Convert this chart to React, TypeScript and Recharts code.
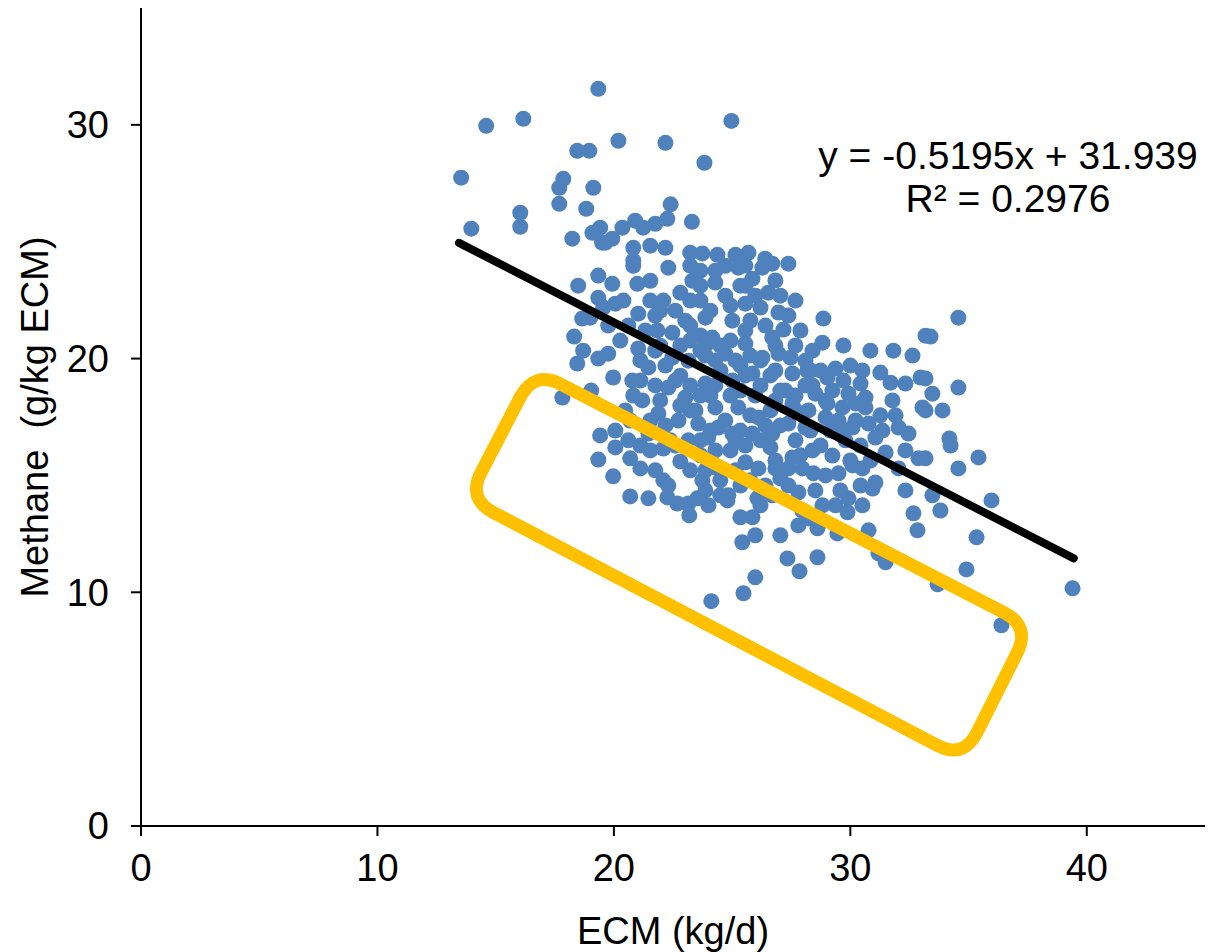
import React from 'react';
import { ScatterChart, Scatter, XAxis, YAxis, Customized } from 'recharts';

const xTicks = [0, 10, 20, 30, 40];
const yTicks = [0, 10, 20, 30];

// [ECM kg/d, methane g/kg ECM]
const cowPoints: [number, number][] = [
  [19.34, 31.54], [14.6, 29.96], [16.17, 30.26], [24.97, 30.17], [20.19, 29.32], [22.18, 29.23],
  [18.45, 28.89], [18.96, 28.89], [23.83, 28.38], [13.54, 27.74], [17.86, 27.69], [17.69, 27.31],
  [19.13, 27.31], [22.4, 26.6], [17.69, 26.62], [18.83, 26.41], [16.04, 26.24], [13.97, 25.56],
  [16.04, 25.64], [23.3, 25.85], [22.26, 25.98], [19.42, 25.6], [18.24, 25.13], [19.09, 25.38],
  [19.5, 24.96], [20.9, 25.9], [20.36, 25.6], [21.24, 25.6], [21.75, 25.77], [19.93, 25.13],
  [19.64, 24.96], [20.82, 24.74], [21.54, 24.83], [22.18, 24.74], [23.23, 24.53], [23.74, 24.5],
  [24.38, 24.44], [25.14, 24.44], [25.69, 24.53], [20.82, 24.19], [26.4, 24.27],
  [18.49, 23.12], [19.34, 23.55], [19.34, 22.6], [19.55, 22.18], [18.66, 21.71], [19.0, 21.75],
  [19.76, 21.41], [18.32, 20.94], [18.7, 20.34], [18.45, 19.79], [19.34, 20.0], [17.82, 18.33],
  [19.04, 18.63], [19.42, 16.71],
  [19.93, 23.2], [20.06, 22.35], [20.82, 23.97], [20.99, 23.2], [20.4, 22.48], [21.03, 21.92],
  [20.27, 20.77], [21.03, 20.43], [21.46, 19.62], [19.97, 19.19], [19.76, 20.21], [20.82, 18.42],
  [21.84, 21.2], [22.09, 22.48], [22.3, 23.89], [22.81, 22.82], [23.32, 23.33], [24.29, 23.25],
  [25.26, 23.89], [25.86, 23.42], [26.28, 23.89], [26.2, 22.18], [25.56, 22.35], [25.01, 21.62],
  [23.87, 21.75], [23.02, 21.62], [22.47, 21.11], [24.16, 20.9], [24.71, 20.21], [25.56, 20.64],
  [26.28, 20.04], [23.15, 19.91], [22.47, 20.04], [23.87, 18.93], [25.01, 19.06], [25.86, 19.36],
  [22.3, 18.76], [23.02, 18.33], [24.29, 17.91], [25.26, 17.91], [26.11, 17.48], [21.2, 18.21],
  [21.88, 17.65], [22.73, 17.35], [23.57, 17.22], [24.42, 17.05], [20.06, 16.92], [20.61, 16.5],
  [21.46, 16.79], [22.3, 16.5], [23.15, 16.5], [23.99, 16.62], [25.01, 16.79], [25.86, 16.79],
  [21.54, 23.33], [23.66, 22.48], [24.71, 22.69], [23.23, 20.77], [23.66, 20.34], [25.35, 19.7],
  [24.08, 18.42], [23.45, 17.78], [25.35, 18.63], [25.98, 18.42], [24.51, 19.49], [22.81, 19.27],
  [21.75, 18.85], [21.96, 20.55], [23.66, 23.76], [25.56, 23.12], [24.71, 23.97], [22.6, 22.05],
  [24.93, 20.77], [23.87, 20.13],
  [26.7, 24.06], [27.38, 24.06], [26.53, 22.82], [27.04, 22.69], [26.96, 21.97], [27.38, 21.84],
  [28.86, 21.71], [27.17, 21.24], [26.7, 20.9], [28.82, 20.68], [29.71, 20.56], [30.85, 20.34],
  [31.82, 20.34], [32.63, 20.13], [33.18, 20.98], [28.4, 20.34], [28.1, 19.91], [27.47, 20.04],
  [26.96, 20.21], [26.83, 19.49], [27.55, 19.36], [28.18, 19.49], [29.03, 19.19], [29.71, 19.06],
  [30.43, 18.93], [31.7, 18.97], [32.33, 18.93], [32.97, 19.19], [28.1, 18.85], [28.52, 18.5],
  [29.24, 18.63], [29.92, 18.5], [30.64, 18.33], [31.78, 18.21], [26.83, 18.21], [27.55, 18.08],
  [28.23, 17.78], [29.03, 18.08], [29.67, 17.91], [30.22, 18.08], [30.64, 17.91], [33.05, 17.91],
  [27.38, 17.22], [28.1, 17.05], [28.95, 17.48], [29.5, 17.35], [30.09, 17.05], [30.77, 17.22],
  [31.36, 16.92], [32.04, 17.05], [32.46, 16.79], [26.7, 16.79], [31.06, 16.62],
  [34.57, 21.75], [33.39, 20.94], [33.18, 19.15], [33.47, 18.5], [34.57, 18.76], [33.18, 17.78],
  [33.9, 17.78], [34.19, 16.58], [19.34, 15.68],
  [20.06, 16.2], [22.09, 16.15], [20.69, 15.73], [21.12, 15.3], [19.97, 14.96], [22.81, 15.6],
  [23.74, 14.79], [22.09, 14.79], [22.3, 14.57], [20.69, 14.1], [21.46, 14.02], [22.26, 14.06],
  [22.68, 13.8], [23.15, 13.8], [23.53, 14.02], [24.0, 13.72], [23.19, 13.29], [24.29, 15.34],
  [24.8, 13.93], [24.84, 14.15], [25.35, 13.21], [25.86, 13.21], [25.43, 12.14], [25.98, 12.44],
  [25.98, 10.64], [25.48, 9.96], [24.12, 9.62], [25.56, 15.56], [26.07, 14.02], [26.11, 15.3],
  [26.62, 16.2], [28.4, 16.07], [29.24, 15.85], [26.83, 15.64], [27.55, 15.77], [26.83, 15.3],
  [27.38, 15.3], [27.97, 15.3], [28.44, 15.09], [28.95, 15.0], [29.5, 15.09], [30.09, 15.43],
  [30.51, 15.3], [31.06, 14.7], [31.49, 15.98], [32.33, 16.07], [32.88, 15.73], [32.04, 15.3],
  [32.33, 14.36], [26.7, 14.15], [27.38, 14.57], [27.8, 14.27], [28.82, 13.72], [29.37, 13.72],
  [29.92, 14.02], [29.88, 13.42], [30.51, 13.72], [30.94, 14.44], [27.97, 13.5], [28.23, 13.16],
  [27.8, 12.86], [28.61, 12.74], [27.04, 12.44], [29.45, 12.52], [30.77, 12.65], [31.19, 11.67],
  [31.49, 11.28], [27.34, 11.45], [27.85, 10.9], [28.61, 11.5], [32.67, 13.38], [32.84, 12.65],
  [33.18, 15.73], [34.24, 16.28], [35.42, 15.77], [34.57, 15.3], [33.47, 14.15], [33.81, 13.5],
  [35.97, 13.93], [35.34, 12.35], [34.91, 10.98], [33.69, 10.34], [39.4, 10.17], [36.39, 8.59],
  // dense core
  [21.33, 21.2], [21.75, 20.34], [22.18, 19.7], [23.23, 18.85], [23.66, 18.42], [24.29, 18.85],
  [24.93, 18.42], [25.56, 19.28], [26.2, 18.85], [26.62, 17.78], [27.04, 17.14], [26.2, 16.5],
  [25.56, 16.28], [24.93, 16.07], [24.29, 16.07], [23.66, 15.86], [23.23, 15.22], [23.87, 15.22],
  [24.5, 14.79], [25.14, 15.22], [25.77, 14.79], [26.41, 14.57], [27.04, 14.87], [27.68, 16.5],
  [28.31, 16.92], [28.74, 16.28], [29.79, 16.5], [30.43, 16.28], [30.22, 17.35], [29.58, 16.92],
  [26.62, 19.28], [27.25, 18.63], [27.68, 17.78], [28.4, 18.85], [29.37, 19.57], [30.0, 19.7],
  [30.51, 19.49], [31.27, 19.4], [23.23, 22.48], [24.08, 22.05], [24.93, 22.27], [25.77, 21.63],
  [26.41, 21.41], [25.56, 21.2], [23.66, 20.99], [22.81, 20.56], [24.29, 19.92], [25.14, 19.92],
  [25.77, 20.13], [22.81, 17.99], [22.18, 17.14], [21.54, 16.07], [22.6, 16.28], [23.66, 16.5],
  [24.71, 17.35], [25.35, 16.92], [21.75, 15.22], [21.12, 16.28], [20.48, 17.78], [20.78, 19.06],
  [21.12, 19.92], [20.61, 21.41], [21.54, 22.48], [21.96, 22.05], [23.23, 23.98], [24.29, 23.76],
  [25.56, 23.98], [25.98, 22.69], [26.83, 23.34], [27.68, 22.48], [27.89, 21.2], [27.68, 20.56],
  [28.74, 19.49], [31.27, 17.57], [31.91, 17.57], [30.85, 15.64], [30.43, 14.57], [29.58, 14.36],
  [28.52, 14.36], [26.2, 13.72], [25.35, 14.57], [24.5, 14.15], [23.87, 14.36],
  [23.87, 20.56], [21.96, 18.21], [21.54, 17.35], [20.69, 17.35], [25.77, 17.57], [26.41, 17.14],
  [27.68, 18.42], [28.95, 18.21], [30.0, 15.64], [23.23, 17.78], [22.39, 16.5], [25.14, 16.5],
  [24.5, 20.56], [23.23, 21.41], [21.75, 21.84], [26.83, 20.56], [25.35, 23.12], [23.66, 23.12],
  [28.31, 19.49], [27.04, 18.63], [26.2, 19.92], [21.12, 19.06], [22.6, 19.06], [24.08, 16.92],
  [27.89, 15.86], [29.16, 16.92],
];

// y = -0.5195x + 31.939 over the data range
const trendEcm = [13.45, 39.45];
const trendMethane = [24.95, 11.45];

// corners of the highlighted (rotated) box
const boxEcm = [16.63, 37.62, 34.79, 13.8];
const boxMethane = [19.49, 8.55, 2.86, 14.0];

const cowData = cowPoints.map(([ecm, methane]) => ({ ecm, methane }));
const trendData = trendEcm.map((ecm, i) => ({ ecm, methane: trendMethane[i] }));
const boxData = boxEcm.map((ecm, i) => ({ ecm, methane: boxMethane[i] }));

const FONT = '"Liberation Sans", Arial, sans-serif';

type Pt = { x: number; y: number };

const roundedPath = (pts: Pt[], r: number) => {
  const n = pts.length;
  let d = '';
  for (let i = 0; i < n; i++) {
    const p = pts[i];
    const prev = pts[(i - 1 + n) % n];
    const next = pts[(i + 1) % n];
    const l1 = Math.hypot(prev.x - p.x, prev.y - p.y);
    const l2 = Math.hypot(next.x - p.x, next.y - p.y);
    const a = { x: p.x + ((prev.x - p.x) / l1) * r, y: p.y + ((prev.y - p.y) / l1) * r };
    const b = { x: p.x + ((next.x - p.x) / l2) * r, y: p.y + ((next.y - p.y) / l2) * r };
    d += `${i === 0 ? 'M' : 'L'}${a.x},${a.y} Q${p.x},${p.y} ${b.x},${b.y} `;
  }
  return d + 'Z';
};

const Dot = (props: any) => <circle cx={props.cx} cy={props.cy} r={8} fill="#4F81BD" />;
const NoDot = () => <g />;

const TrendLine = (props: any) => {
  const [p1, p2] = props.points;
  return <line x1={p1.x} y1={p1.y} x2={p2.x} y2={p2.y} stroke="#000" strokeWidth={8} strokeLinecap="round" />;
};

const BoxLine = (props: any) => (
  <path d={roundedPath(props.points, 30)} fill="none" stroke="#FFC000" strokeWidth={13} strokeLinejoin="round" />
);

const Equation = () => (
  <g fontFamily={FONT} fontSize={39} fill="#000" textAnchor="middle">
    <text x={1008} y={169}>y = -0.5195x + 31.939</text>
    <text x={1008} y={212}>R² = 0.2976</text>
  </g>
);

export default function App() {
  return (
    <div style={{ position: 'absolute', left: 0, top: 0, width: 1208, height: 952, background: '#fff' }}>
      <ScatterChart width={1208} height={952} margin={{ top: 8, right: 3, left: 0, bottom: 0 }}>
        <XAxis
          type="number"
          dataKey="ecm"
          domain={[0, 45]}
          ticks={xTicks}
          allowDataOverflow
          height={126}
          axisLine={{ stroke: '#000', strokeWidth: 2 }}
          tickLine={{ stroke: '#000', strokeWidth: 2 }}
          tickSize={10}
          tickMargin={18}
          tick={{ fill: '#000', fontSize: 38, fontFamily: FONT }}
          label={{ value: 'ECM (kg/d)', position: 'insideBottom', offset: 8, fill: '#000', fontSize: 38, fontFamily: FONT }}
        />
        <YAxis
          type="number"
          dataKey="methane"
          domain={[0, 35]}
          ticks={yTicks}
          allowDataOverflow
          width={141}
          axisLine={{ stroke: '#000', strokeWidth: 2 }}
          tickLine={{ stroke: '#000', strokeWidth: 2 }}
          tickSize={10}
          tickMargin={22}
          tick={{ fill: '#000', fontSize: 38, fontFamily: FONT }}
          label={{
            value: 'Methane\u00A0 (g/kg ECM)',
            angle: -90,
            position: 'insideLeft',
            offset: 35,
            fill: '#000',
            fontSize: 38,
            fontFamily: FONT,
            style: { textAnchor: 'middle' },
          }}
        />
        <Scatter data={cowData} shape={Dot} isAnimationActive={false} />
        <Scatter data={trendData} shape={NoDot} line={TrendLine} isAnimationActive={false} />
        <Scatter data={boxData} shape={NoDot} line={BoxLine} isAnimationActive={false} />
        <Customized component={<Equation />} />
      </ScatterChart>
    </div>
  );
}
